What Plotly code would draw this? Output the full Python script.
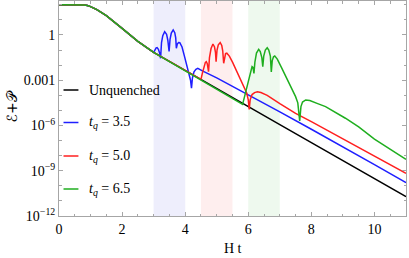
import numpy as np
import plotly.graph_objects as go

# ---------------- data (values are log10 of E+P) ----------------
unq_t = [0, 0.6, 0.8, 0.9, 1.0, 1.2, 1.5, 2.0, 2.5, 3.0, 4.0, 5.0, 6.0, 7.0, 8.0, 9.0, 10.0, 11.0]
unq_log = [2.0, 2.0, 1.98, 1.95, 1.88, 1.68, 1.28, 0.44, -0.42, -1.15, -2.36, -3.56, -4.75, -5.95, -7.14, -8.34, -9.53, -10.72]

q35_t = [3.0, 3.04, 3.08, 3.11, 3.15, 3.19, 3.22, 3.25, 3.29, 3.35, 3.41, 3.45, 3.49, 3.52, 3.56, 3.62, 3.67,
         3.70, 3.72, 3.75, 3.79, 3.83, 3.9, 3.98, 4.05, 4.12, 4.17, 4.2, 4.23, 4.28, 4.34, 4.4, 4.48, 4.56,
         5.0, 5.5, 6.0, 7.0, 8.0, 9.0, 10.0, 11.0]
q35_log = [-1.15, -0.98, -0.86, -0.84, -0.95, -1.2, -1.55, -0.5, -0.05, 0.22, 0.05, -0.35, -1.1, -0.3, 0.12, 0.33, 0.15,
           -0.2, -0.88, -0.6, -0.5, -0.51, -0.8, -1.44, -2.0, -2.6, -3.0, -3.53, -2.85, -2.45, -2.28, -2.21, -2.28, -2.4,
           -2.85, -3.4, -3.95, -5.1, -6.25, -7.4, -8.6, -9.79]

q50_t = [4.5, 4.55, 4.6, 4.64, 4.67, 4.7, 4.74, 4.77, 4.82, 4.88, 4.93, 4.96, 4.98, 5.01, 5.05, 5.11, 5.16, 5.19,
         5.22, 5.25, 5.28, 5.32, 5.4, 5.5, 5.61, 5.75, 5.87, 5.95, 6.0, 6.03, 6.06, 6.12, 6.2, 6.29, 6.4, 6.6,
         7.0, 7.5, 8.0, 9.0, 10.0, 11.0]
q50_log = [-2.94, -2.5, -2.05, -1.82, -1.77, -1.9, -2.43, -1.5, -0.9, -0.6, -0.8, -1.15, -1.77, -1.0, -0.65, -0.51, -0.7, -1.05,
           -1.88, -1.4, -1.24, -1.21, -1.4, -1.8, -2.32, -2.9, -3.43, -3.85, -4.3, -4.93, -4.3, -3.95, -3.82, -3.76, -3.82, -4.0,
           -4.55, -5.2, -5.75, -6.9, -8.03, -9.17]

q65_t = [5.82, 5.88, 5.95, 6.02, 6.08, 6.12, 6.15, 6.18, 6.21, 6.26, 6.33, 6.38, 6.43, 6.46, 6.49, 6.54, 6.6, 6.65,
         6.7, 6.73, 6.76, 6.8, 6.84, 6.92, 7.05, 7.19, 7.35, 7.5, 7.57, 7.63, 7.67, 7.72, 7.82, 7.95, 8.2, 8.45,
         9.08, 9.5, 10.0, 10.5, 11.0]
q65_log = [-4.6, -4.1, -3.5, -2.8, -2.3, -2.1, -2.15, -2.55, -1.8, -1.2, -0.95, -1.1, -1.5, -2.1, -1.4, -1.0, -0.85, -1.0,
           -1.4, -2.45, -1.7, -1.45, -1.4, -1.6, -2.15, -2.77, -3.4, -4.09, -4.5, -5.7, -4.75, -4.45, -4.31, -4.35, -4.55, -4.75,
           -5.52, -6.1, -6.9, -7.6, -8.24]

windows = [(3.0, 4.0), (4.5, 5.5), (6.0, 7.0)]
series_names = ["Unquenched", "<i>t</i><sub><i>q</i></sub> = 3.5", "<i>t</i><sub><i>q</i></sub> = 5.0",
                "<i>t</i><sub><i>q</i></sub> = 6.5"]
ytick_vals = [1e-12, 1e-9, 1e-6, 1e-3, 1]
ytick_text = ["10<sup>\u221212</sup>", "10<sup>\u22129</sup>", "10<sup>\u22126</sup>", "0.001", "1"]

# ---------------- styling ----------------
colors = ["#000000", "#1f1fff", "#ff1f1f", "#1fae1f"]
shade = ["rgba(120,120,235,0.13)", "rgba(245,120,120,0.13)", "rgba(120,205,120,0.13)"]
FONT = "Liberation Serif"
AXC = "#a6a6a6"


def full_series(t_q, v_q):
    """prepend the unquenched history before the departure point"""
    t0 = t_q[0]
    tt = [t for t in unq_t if t < t0] + list(t_q)
    vv = [v for t, v in zip(unq_t, unq_log) if t < t0] + list(v_q)
    return np.array(tt), 10.0 ** np.array(vv)


fig = go.Figure()
all_series = [(np.array(unq_t), 10.0 ** np.array(unq_log))]
for tq, vq in [(q35_t, q35_log), (q50_t, q50_log), (q65_t, q65_log)]:
    all_series.append(full_series(tq, vq))

for (x, y), c, n in zip(all_series, colors, series_names):
    fig.add_trace(go.Scatter(x=x, y=y, mode="lines", name=n, showlegend=False,
                             line=dict(color=c, width=1.5)))

shapes = []
for (a, b), s in zip(windows, shade):
    shapes.append(dict(type="rect", xref="x", yref="paper", x0=a, x1=b, y0=0, y1=1,
                       fillcolor=s, line=dict(width=0), layer="below"))

# manual legend (short line segments + labels)
leg_y = [90, 122.5, 156, 189]
annotations = []
for yy, c, n in zip(leg_y, colors, series_names):
    yp = 1 - (yy - 1) / (216 - 1)
    shapes.append(dict(type="line", xref="paper", yref="paper", x0=0.013, x1=0.056, y0=yp, y1=yp,
                       line=dict(color=c, width=1.5)))
    annotations.append(dict(xref="paper", yref="paper", x=0.082, y=yp, text=n, showarrow=False,
                            xanchor="left", yanchor="middle", font=dict(family=FONT, size=14, color="black")))

annotations.append(dict(xref="paper", yref="paper", x=0.5, y=0, yshift=-32, text="H t", showarrow=False,
                        xanchor="center", yanchor="middle", font=dict(family=FONT, size=14, color="black")))
annotations.append(dict(xref="paper", yref="paper", x=0, xshift=-48, y=0.5, yshift=2, text="\u2130+\U0001D4AB",
                        showarrow=False, textangle=-90, xanchor="center", yanchor="middle",
                        font=dict(family="DejaVu Serif, DejaVu Sans, serif", size=14, color="black")))

fig.update_layout(
    width=409, height=258,
    margin=dict(l=59, r=3, t=1, b=42),
    plot_bgcolor="white", paper_bgcolor="white",
    shapes=shapes, annotations=annotations,
    font=dict(family=FONT, size=14, color="black"),
)
fig.update_xaxes(range=[0, 11], tickvals=[0, 2, 4, 6, 8, 10], showgrid=False, zeroline=False,
                 showline=True, linecolor=AXC, linewidth=1, mirror="ticks",
                 ticks="inside", ticklen=4, tickcolor=AXC,
                 minor=dict(dtick=0.5, tick0=0, ticks="inside", ticklen=2.5, tickcolor=AXC),
                 tickfont=dict(family=FONT, size=14, color="black"))
fig.update_yaxes(type="log", range=[-12, 2.25], tickvals=ytick_vals, ticktext=ytick_text,
                 showgrid=False, zeroline=False,
                 showline=True, linecolor=AXC, linewidth=1, mirror="ticks",
                 ticks="inside", ticklen=4, tickcolor=AXC,
                 minor=dict(tickvals=[1e-11, 1e-10, 1e-8, 1e-7, 1e-5, 1e-4, 1e-2, 1e-1, 10, 100],
                            ticks="inside", ticklen=2.5, tickcolor=AXC),
                 tickfont=dict(family=FONT, size=14, color="black"))

fig.write_html("out.html", config={"displayModeBar": False},
               post_script="document.body.style.margin='0px';document.body.style.padding='0px';")
